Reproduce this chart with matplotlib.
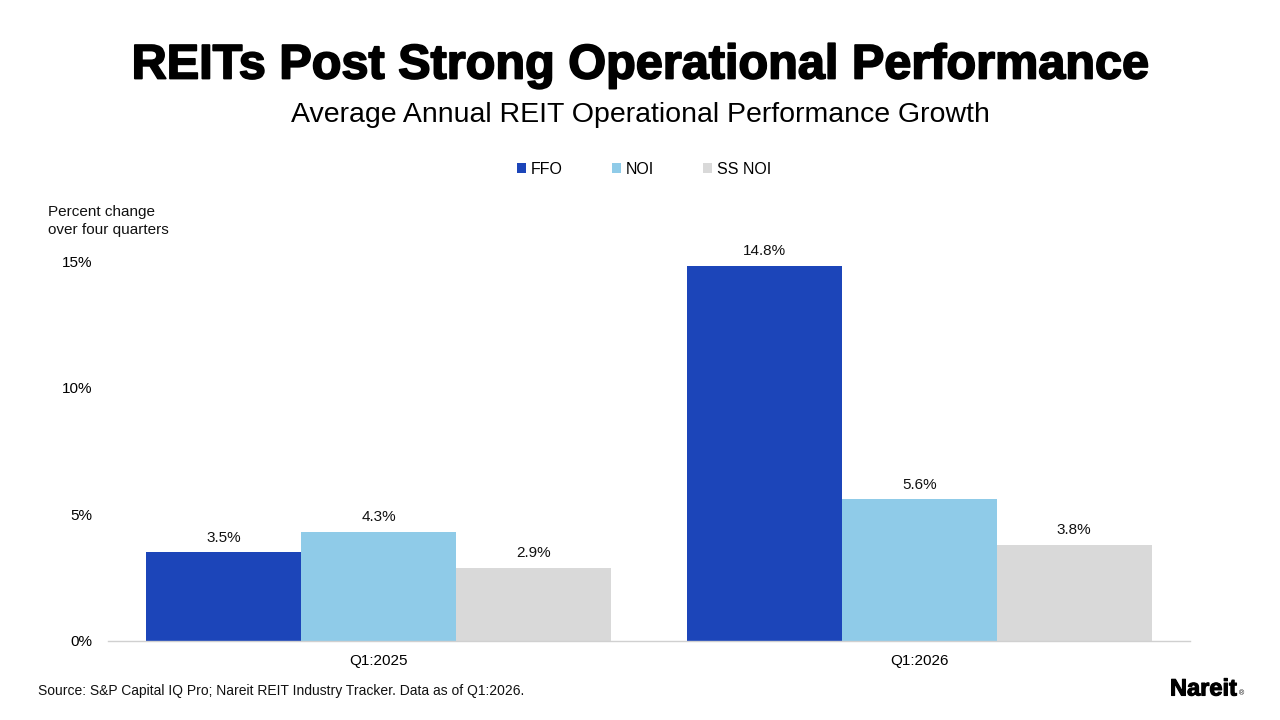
import matplotlib
matplotlib.use("Agg")
import matplotlib.pyplot as plt
import matplotlib.patheffects as pe
import numpy as np

plt.rcParams['font.family'] = ['Liberation Sans', 'DejaVu Sans']

categories = ["Q1:2025", "Q1:2026"]
series_names = ["FFO", "NOI", "SS NOI"]
ffo = [3.5, 14.8]
noi = [4.3, 5.6]
ss_noi = [2.9, 3.8]
colors = ["#1C45B9", "#8FCBE8", "#D9D9D9"]
yticks = [0, 5, 10, 15]

fig = plt.figure(figsize=(12.8, 7.2), dpi=100)
ax = fig.add_axes([108/1280, 79/720, (1190-108)/1280, (641-261)/720])

x = np.arange(len(categories))
w = 0.286
handles = []
for i, (vals, name, c) in enumerate(zip([ffo, noi, ss_noi], series_names, colors)):
    pos = x + (i - 1) * w
    b = ax.bar(pos, vals, width=w, color=c, label=name, zorder=2)
    handles.append(b)
    for p, v in zip(pos, vals):
        ax.text(p, v + 0.3, f"{v:.1f}%", ha="center", va="bottom", fontsize=11, color="#111111", clip_on=False)

ax.set_xlim(-0.5, 1.5)
ax.set_ylim(0, 15)
ax.set_yticks(yticks)
ax.set_yticklabels([f"{t}%" for t in yticks], fontsize=11)
ax.set_xticks(x)
ax.set_xticklabels(categories, fontsize=11)
ax.tick_params(axis="x", length=0, pad=9)
ax.tick_params(axis="y", length=0, pad=11)
for s in ["top", "right", "left"]:
    ax.spines[s].set_visible(False)
ax.spines["bottom"].set_color("#D0D0D0")
ax.spines["bottom"].set_linewidth(1)

fig.text(0.5, 1 - 66/720, "REITs Post Strong Operational Performance", ha="center", va="center",
         fontsize=35, fontweight="heavy", color="black",
         path_effects=[pe.withStroke(linewidth=1.3, foreground="black")])
fig.text(0.5, 1 - 115/720, "Average Annual REIT Operational Performance Growth", ha="center", va="center",
         fontsize=20.5, color="black")
fig.text(48/1280, 1 - 221/720, "Percent change\nover four quarters", ha="left", va="center",
         fontsize=11, color="#111111", linespacing=1.3)

fig.legend(handles=handles, labels=series_names, loc="center", bbox_to_anchor=(0.5 + 4/1280, 1 - 169/720),
           ncol=3, frameon=False, fontsize=11.5, handlelength=0.55, handleheight=0.55,
           handletextpad=0.3, columnspacing=3.1)

fig.text(38/1280, 1 - 691/720, "Source: S&P Capital IQ Pro; Nareit REIT Industry Tracker. Data as of Q1:2026.",
         ha="left", va="center", fontsize=10, color="#111111")
fig.text(1237/1280, 1 - 689/720, "Nareit", ha="right", va="center", fontsize=17, fontweight="heavy", color="black",
         path_effects=[pe.withStroke(linewidth=0.8, foreground="black")])
fig.text(1239/1280, 1 - 694/720, "®", ha="left", va="center", fontsize=5, color="black")

fig.savefig("out.png", dpi=100)
